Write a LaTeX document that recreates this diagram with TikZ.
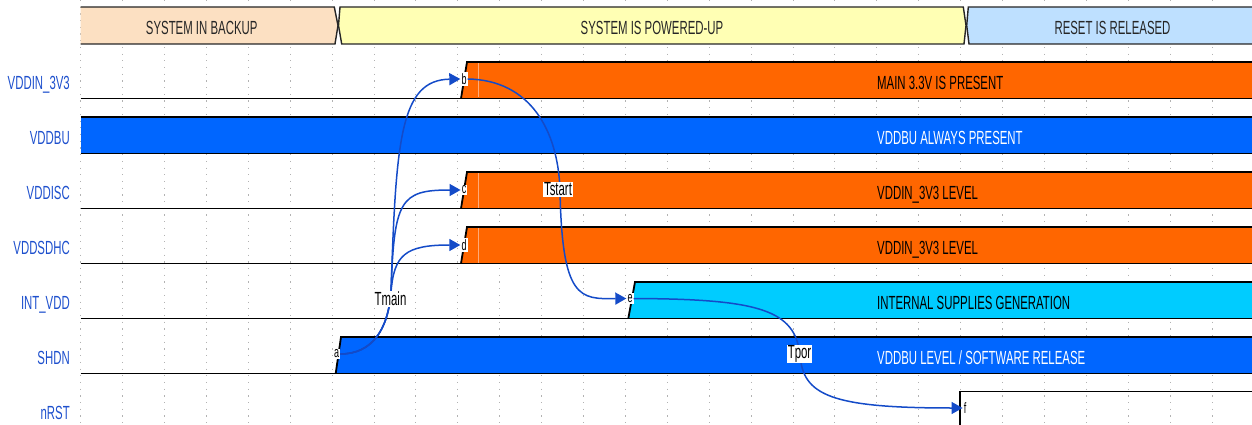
\documentclass[tikz,border=0pt]{standalone}
\usepackage{fontspec}
\setmainfont{Liberation Sans}[FakeStretch=0.6]
\usetikzlibrary{arrows.meta}
\definecolor{sigorange}{RGB}{255,102,0}
\definecolor{sigblue}{RGB}{0,102,255}
\definecolor{sigcyan}{RGB}{0,204,255}
\definecolor{hpeach}{RGB}{252,224,194}
\definecolor{hyellow}{RGB}{255,255,180}
\definecolor{hblue}{RGB}{190,224,255}
\definecolor{lblblue}{RGB}{30,80,205}
\definecolor{arrblue}{RGB}{20,75,200}
\definecolor{faintor}{RGB}{255,170,120}
\tikzset{
  gridline/.style={gray!60, line width=0.9pt, dash pattern=on 1.2pt off 5.5pt},
  hdr/.style={black!85, line width=1.4pt, line join=miter},
  sig/.style={black, line width=1.8pt, line join=miter},
  faint/.style={faintor, line width=0.7pt},
  bigfont/.style={font=\fontsize{19}{21}\selectfont},
  htext/.style={bigfont, text=black!85, anchor=base, inner sep=0pt},
  btext/.style={bigfont, anchor=base west, inner sep=0pt},
  lbl/.style={bigfont, text=lblblue, anchor=base east, inner sep=0pt},
  mk/.style={font=\fontsize{15}{16}\selectfont, fill=white, inner sep=1pt},
  tl/.style={bigfont, fill=white, inner sep=0.6pt},
  arr/.style={arrblue, line width=1.5pt, -{Triangle[length=11pt,width=12pt]}}
}
\begin{document}
\begin{tikzpicture}[x=1pt,y=-1pt]
\useasboundingbox (0,0) rectangle (1252,425);
\clip (0,0) rectangle (1252,425);
% grid
\foreach \k in {0,...,27} \draw[gridline] ({80.7+41.9*\k},0) -- ({80.7+41.9*\k},425);
% header
\fill[hpeach] (80.7,7) -- (334.3,7) -- (338,25.5) -- (335,44) -- (80.7,44) -- cycle;
\draw[hdr] (80.7,7) -- (334.3,7) -- (338,25.5) -- (335,44) -- (80.7,44);
\filldraw[hdr, fill=hyellow] (340,7) -- (963.3,7) -- (966,25.5) -- (964,44) -- (341.7,44) -- (338.5,25.5) -- cycle;
\fill[hblue] (968.3,7) -- (1260,7) -- (1260,44) -- (969,44) -- (966.7,25.5) -- cycle;
\draw[hdr] (1260,7) -- (968.3,7) -- (966.7,25.5) -- (969,44) -- (1260,44);
\node[htext] (h1) at (201.7,35) {SYSTEM IN BACKUP};
\node[htext] (h2) at (652,35) {SYSTEM IS POWERED-UP};
\node[htext] (h3) at (1112.5,35) {RESET IS RELEASED};
% VDDIN_3V3
\fill[sigorange] (461,98.5) -- (467,62) -- (1260,62) -- (1260,98.5) -- cycle;
\draw[faint] (478,63) -- (478,97.5);
\draw[sig] (80.7,98.5) -- (1260,98.5);
\draw[sig] (461,98.5) -- (467,62) -- (1260,62);
% VDDBU
\fill[sigblue] (80.7,117) rectangle (1260,153.5);
\draw[sig] (80.7,117) -- (1260,117);
\draw[sig] (80.7,153.5) -- (1260,153.5);
% VDDISC
\fill[sigorange] (461,208.5) -- (467,172) -- (1260,172) -- (1260,208.5) -- cycle;
\draw[faint] (478,173) -- (478,207.5);
\draw[sig] (80.7,208.5) -- (1260,208.5);
\draw[sig] (461,208.5) -- (467,172) -- (1260,172);
% VDDSDHC
\fill[sigorange] (461,263.5) -- (467,227) -- (1260,227) -- (1260,263.5) -- cycle;
\draw[faint] (478,228) -- (478,262.5);
\draw[sig] (80.7,263.5) -- (1260,263.5);
\draw[sig] (461,263.5) -- (467,227) -- (1260,227);
% INT_VDD
\fill[sigcyan] (628.3,318.5) -- (635,282) -- (1260,282) -- (1260,318.5) -- cycle;
\draw[sig] (80.7,318.5) -- (1260,318.5);
\draw[sig] (628.3,318.5) -- (635,282) -- (1260,282);
% SHDN
\fill[sigblue] (335.7,373.5) -- (341,337) -- (1260,337) -- (1260,373.5) -- cycle;
\draw[sig] (80.7,373.5) -- (1260,373.5);
\draw[sig] (335.7,373.5) -- (341,337) -- (1260,337);
% nRST
\draw[sig] (80.7,428.5) -- (960.3,428.5) -- (960.3,391.5) -- (1260,391.5);
% band texts
\node[btext, text=black] (t1) at (877,89.5) {MAIN 3.3V IS PRESENT};
\node[btext, text=white] (t2) at (877,144.5) {VDDBU ALWAYS PRESENT};
\node[btext, text=black] (t3) at (877,199.5) {VDDIN\_3V3 LEVEL};
\node[btext, text=black] (t4) at (877,254.5) {VDDIN\_3V3 LEVEL};
\node[btext, text=black] (t5) at (877,309.5) {INTERNAL SUPPLIES GENERATION};
\node[btext, text=white] (t6) at (877,364.5) {VDDBU LEVEL / SOFTWARE RELEASE};
% row labels
\node[lbl] (l1) at (70,90) {VDDIN\_3V3};
\node[lbl] (l2) at (70,144.5) {VDDBU};
\node[lbl] (l3) at (70,199.5) {VDDISC};
\node[lbl] (l4) at (70,254.5) {VDDSDHC};
\node[lbl] (l5) at (70,309.5) {INT\_VDD};
\node[lbl] (l6) at (70,364.5) {SHDN};
\node[lbl] (l7) at (70,419.5) {nRST};
% markers
\node[mk] (a) at (336.5,354) {a};
\node[mk] (b) at (464,79) {b};
\node[mk] (c) at (464,190) {c};
\node[mk] (d) at (464,245) {d};
\node[mk] (e) at (630,298.5) {e};
\node[mk] (f) at (965,408) {f};
% connectors
\draw[arr] (a.east) .. controls (372,354) and (388,330) .. (391,292) .. controls (396,140) and (400,80) .. (b.west);
\draw[arr] (a.east) .. controls (372,354) and (388,330) .. (391,292) .. controls (394,200) and (400,190) .. (c.west);
\draw[arr] (a.east) .. controls (372,354) and (388,330) .. (391,292) .. controls (394,255) and (405,245) .. (d.west);
\draw[arr] (b.east) .. controls (530,80) and (558,130) .. (560,190) .. controls (562,300) and (580,299) .. (e.west);
\draw[arr] (e.east) .. controls (760,299) and (795,310) .. (800,355) .. controls (803,395) and (830,408) .. (f.west);
% time labels
\node[tl] (tmain) at (390.5,299) {Tmain};
\node[tl] (tstart) at (558,189.5) {Tstart};
\node[tl] (tpor) at (799.5,354) {Tpor};
\end{tikzpicture}
\end{document}
